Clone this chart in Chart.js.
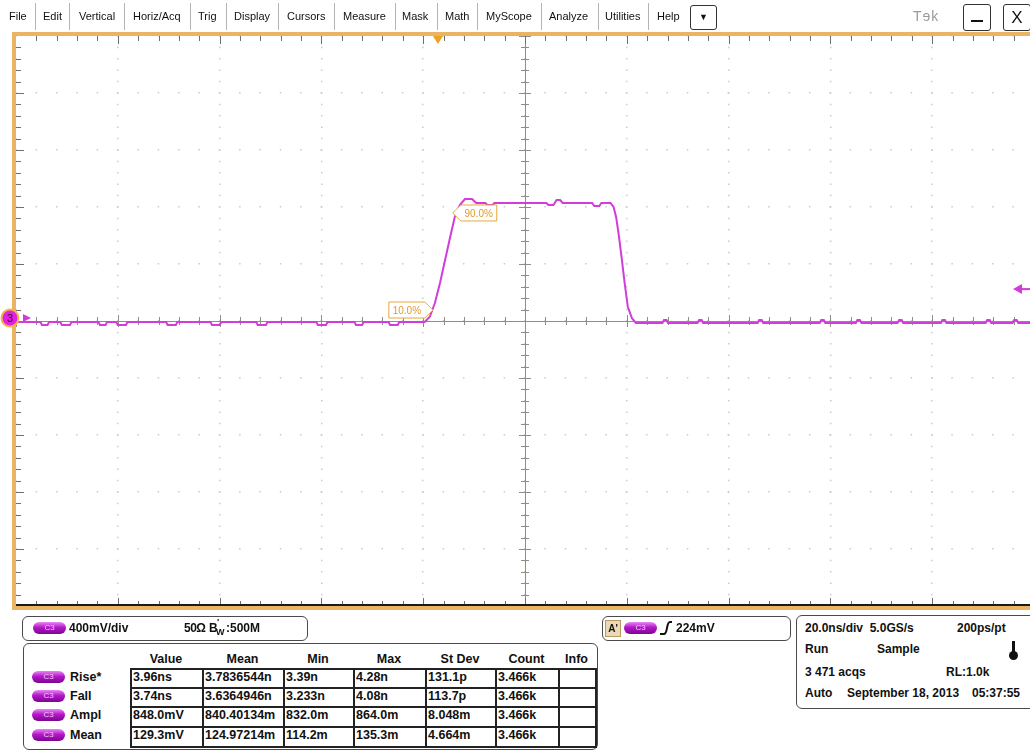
<!DOCTYPE html>
<html>
<head>
<meta charset="utf-8">
<script src="https://cdn.jsdelivr.net/npm/chart.js@4.4.0/dist/chart.umd.min.js"></script>
<style>
html, body { margin: 0; padding: 0; width: 1030px; height: 751px; overflow: hidden; background: #fff;
  font-family: "Liberation Sans", Arial, sans-serif; color: #111; }
.abs { position: absolute; white-space: nowrap; }
.menu { font-size: 11px; top: 9px; line-height: 14px; }
.sep { position: absolute; top: 3px; width: 1px; height: 27px; background: #b4b4b4; }
.box { position: absolute; border: 1px solid #4a4a4a; border-radius: 6px; background: #fff; }
.pill { position: absolute; width: 33px; height: 12px; border-radius: 7px;
  background: linear-gradient(#e889f4, #b517c9 45%, #7a0690); color: #f0c6f6;
  font-size: 8px; line-height: 12px; text-align: center; }
.b { font-weight: bold; font-size: 12px; line-height: 14px; }
.t { font-size: 12.5px; }
.hl { position: absolute; height: 1.5px; background: #222; }
.vl { position: absolute; width: 1.5px; background: #222; }
#scope { position: absolute; left: 0; top: 0; }
</style>
</head>
<body>
<canvas id="scope" width="1040" height="620"></canvas>
<div id="ui"></div>
<script>
// C3 waveform (time in ns, level in mV)
const waveTimeNs = [
  -100, -95.2, -94.9, -93.8, -93.5, -91.3, -91.0, -89.4, -89.1, -83.8, -83.5, -82.4, -82.1,
  -80.3, -80.0, -78.4, -78.1, -70.5, -70.2, -68.6, -68.3, -61.8, -61.5, -60.0, -59.7,
  -52.8, -52.5, -50.9, -50.6, -41.0, -40.7, -39.1, -38.8, -33.5, -33.2, -32.0, -31.7,
  -26.8, -26.5, -25.0, -24.7,
  -19.7, -18.7, -17.7, -16.7, -15.7, -14.7, -13.8, -12.8, -11.8, -10.4, -9.6,
  -7.8, -7.4, -6.4, -6.0, 4.2, 4.6, 5.6, 6.2, 6.9, 7.4, 13.2, 13.6, 14.6, 15.0, 16.8,
  17.4, 17.9, 18.4, 19.0, 19.6, 20.2, 21.0, 21.8,
  27.0, 27.3, 27.8, 28.1, 33.9, 34.2, 34.7, 35.0, 45.7, 46.0, 46.5, 46.8,
  57.9, 58.2, 58.7, 59.0, 65.0, 65.3, 65.8, 66.1, 73.2, 73.5, 74.0, 74.3,
  81.7, 82.0, 82.5, 82.8, 90.5, 90.8, 91.3, 91.6, 95.8, 96.1, 96.6, 96.9, 100
];
const waveMv = [
  -7, -7, -28, -28, -7, -7, -28, -28, -7, -7, -28, -28, -7,
  -7, -28, -28, -7, -7, -28, -28, -7, -7, -28, -28, -7,
  -7, -28, -28, -7, -7, -28, -28, -7, -7, -28, -28, -7,
  -7, -28, -28, -7,
  -7, 30, 126, 267, 428, 590, 730, 814, 856, 856, 828,
  828, 814, 814, 828, 828, 814, 814, 849, 849, 828, 828, 807, 807, 828, 828,
  800, 730, 610, 440, 260, 100, 20, -14,
  -14, 7, 7, -14, -14, 7, 7, -14, -14, 7, 7, -14,
  -14, 7, 7, -14, -14, 7, 7, -14, -14, 7, 7, -14,
  -14, 7, 7, -14, -14, 7, 7, -14, -14, 7, 7, -14, -14
];

// scope settings
const timePerDivNs = 20;
const voltsPerDivMv = 400;
const triggerTimeNs = -17.1;
const triggerLevelMv = 224;
const refLabels = ['10.0%', '90.0%'];
const refTimeNs = [-18.1, -14.2];
const refLevelMv = [77, 758];

// measurement readout
const measNames = ['Rise*', 'Fall', 'Ampl', 'Mean'];
const measHeaders = ['Value', 'Mean', 'Min', 'Max', 'St Dev', 'Count', 'Info'];
const measValue = ['3.96ns', '3.74ns', '848.0mV', '129.3mV'];
const measMean = ['3.7836544n', '3.6364946n', '840.40134m', '124.97214m'];
const measMin = ['3.39n', '3.233n', '832.0m', '114.2m'];
const measMax = ['4.28n', '4.08n', '864.0m', '135.3m'];
const measStdDev = ['131.1p', '113.7p', '8.048m', '4.664m'];
const measCount = ['3.466k', '3.466k', '3.466k', '3.466k'];

const menuItems = ['File', 'Edit', 'Vertical', 'Horiz/Acq', 'Trig', 'Display', 'Cursors',
  'Measure', 'Mask', 'Math', 'MyScope', 'Analyze', 'Utilities', 'Help'];

const ORANGE = '#e9b562';
const MAGENTA = '#d23cdb';

// ---- html chrome around the graticule ----
const ui = document.getElementById('ui');
function add (html) { ui.insertAdjacentHTML('beforeend', html); }

const menuX = [9, 43, 79, 133, 198, 234, 287, 343, 402, 445, 486, 549, 605, 657];
const sepX = [35, 69, 124, 190, 226, 278, 334, 395, 437, 477, 541, 598, 648];
menuItems.forEach((m, i) => add(`<div class="abs menu" style="left:${menuX[i]}px">${m}</div>`));
sepX.forEach(x => add(`<div class="sep" style="left:${x}px"></div>`));
add(`<div class="abs" style="left:690px;top:5px;width:25px;height:23px;border:1px solid #333;border-radius:3px;font-size:9px;line-height:23px;text-align:center">&#9660;</div>`);
add(`<div class="abs" style="left:913px;top:8px;font-size:14px;color:#9a9a9a;letter-spacing:1px">T&#x0258;k</div>`);
add(`<div class="abs" style="left:963px;top:4px;width:26px;height:25px;border:1.5px solid #333;border-radius:3px"><div style="position:absolute;left:7px;top:15px;width:12px;height:2px;background:#111"></div></div>`);
add(`<div class="abs" style="left:1003px;top:4px;width:26px;height:25px;border:1.5px solid #333;border-radius:3px;font-size:17px;line-height:25px;text-align:center">X</div>`);

// vertical panel
add(`<div class="box" style="left:22px;top:616px;width:284px;height:23px"></div>`);
add(`<div class="pill" style="left:33px;top:622px">C3</div>`);
add(`<div class="abs b" style="left:69px;top:621px">400mV/div</div>`);
add(`<div class="abs b" style="left:184px;top:621px;letter-spacing:-0.5px">50&Omega;</div>`);
add(`<div class="abs b" style="left:209px;top:621px">B</div>`);
add(`<div class="abs" style="left:217px;top:617px;font-size:9px;font-weight:bold">&#8242;</div>`);
add(`<div class="abs" style="left:216px;top:627px;font-size:9px;font-weight:bold">W</div>`);
add(`<div class="abs b" style="left:226px;top:621px">:500M</div>`);

// trigger panel
add(`<div class="box" style="left:602px;top:616px;width:187px;height:23px"></div>`);
add(`<div class="abs" style="left:605px;top:620px;width:14px;height:15px;background:#ead9b2;border:1px solid #b89a60;font-size:10px;font-weight:bold;line-height:15px;text-align:center">A'</div>`);
add(`<div class="pill" style="left:624px;top:622px">C3</div>`);
add(`<svg class="abs" style="left:659px;top:620px" width="14" height="16"><path d="M1 14 H5 Q7 14 8 8 Q9 2 11 2 H13" fill="none" stroke="#111" stroke-width="2"/></svg>`);
add(`<div class="abs b" style="left:676px;top:621px">${triggerLevelMv}mV</div>`);

// timebase panel
add(`<div class="box" style="left:796px;top:615px;width:240px;height:92px"></div>`);
add(`<div class="abs b" style="left:805px;top:621px">20.0ns/div&nbsp; 5.0GS/s</div>`);
add(`<div class="abs b" style="left:957px;top:621px">200ps/pt</div>`);
add(`<div class="abs b" style="left:805px;top:642px">Run</div>`);
add(`<div class="abs b" style="left:877px;top:642px">Sample</div>`);
add(`<div class="abs" style="left:1012px;top:641px;width:3px;height:13px;background:#111"></div>`);
add(`<div class="abs" style="left:1009px;top:651px;width:9px;height:9px;border-radius:5px;background:#111"></div>`);
add(`<div class="abs b" style="left:805px;top:665px">3 471 acqs</div>`);
add(`<div class="abs b" style="left:946px;top:665px">RL:1.0k</div>`);
add(`<div class="abs b" style="left:805px;top:686px">Auto</div>`);
add(`<div class="abs b" style="left:847px;top:686px">September 18, 2013</div>`);
add(`<div class="abs b" style="left:972px;top:686px">05:37:55</div>`);

// measurement table
add(`<div class="box" style="left:23px;top:643px;width:573px;height:105px"></div>`);
const colX = [130, 202, 283, 353, 425, 495, 558, 595];
const rowY = [668, 687, 706, 726, 746];
measHeaders.forEach((h, i) => {
  const c = (colX[i] + colX[i + 1]) / 2;
  add(`<div class="abs b t" style="left:${c - 40}px;width:80px;text-align:center;top:652px">${h}</div>`);
});
rowY.forEach(y => add(`<div class="hl" style="left:${colX[0]}px;top:${y}px;width:${colX[7] - colX[0] + 1.5}px"></div>`));
colX.forEach(x => add(`<div class="vl" style="left:${x}px;top:${rowY[0]}px;height:${rowY[4] - rowY[0]}px"></div>`));
const measCols = [measValue, measMean, measMin, measMax, measStdDev, measCount];
measNames.forEach((name, r) => {
  const top = rowY[r] + 3;
  add(`<div class="pill" style="left:32px;top:${top}px">C3</div>`);
  add(`<div class="abs b t" style="left:70px;top:${top - 1}px">${name}</div>`);
  measCols.forEach((col, c) => add(`<div class="abs b t" style="left:${colX[c] + 3}px;top:${top - 1}px">${col[r]}</div>`));
});

// ---- graticule drawn on top of chart.js scales ----
const graticule = {
  id: 'graticule',
  beforeDatasetsDraw (chart)
  {
    const {ctx, chartArea: a, scales: {x, y}} = chart;
    const cx = x.getPixelForValue(0);
    const cy = y.getPixelForValue(0);
    const minorX = timePerDivNs / 5;
    const minorY = voltsPerDivMv / 5;
    ctx.save();
    // center cross with minor ticks
    ctx.strokeStyle = '#8e8e84';
    ctx.lineWidth = 1;
    ctx.beginPath();
    ctx.moveTo(a.left, cy + 0.5); ctx.lineTo(a.right, cy + 0.5);
    ctx.moveTo(cx + 0.5, a.top); ctx.lineTo(cx + 0.5, a.bottom);
    for (let i = 0; i <= 50; i++)
    {
      const px = Math.round(x.getPixelForValue(x.min + i * minorX)) + 0.5;
      const len = i % 5 === 0 ? 6 : 4;
      ctx.moveTo(px, cy - len); ctx.lineTo(px, cy + len);
      const py = Math.round(y.getPixelForValue(y.min + i * minorY)) + 0.5;
      ctx.moveTo(cx - len, py); ctx.lineTo(cx + len, py);
    }
    ctx.stroke();
    // edge ticks
    ctx.strokeStyle = '#6e6e6e';
    ctx.beginPath();
    for (let i = 1; i < 50; i++)
    {
      const px = Math.round(x.getPixelForValue(x.min + i * minorX)) + 0.5;
      const lx = i % 5 === 0 ? 8 : 5;
      ctx.moveTo(px, a.top); ctx.lineTo(px, a.top + lx);
      ctx.moveTo(px, a.bottom); ctx.lineTo(px, a.bottom - lx);
      const py = Math.round(y.getPixelForValue(y.min + i * minorY)) + 0.5;
      ctx.moveTo(a.left, py); ctx.lineTo(a.left + lx, py);
    }
    ctx.stroke();
    ctx.restore();
  },
  afterDraw (chart)
  {
    const {ctx, chartArea: a, scales: {x, y}} = chart;
    ctx.save();
    // frame
    ctx.fillStyle = '#1a1a1a';
    ctx.fillRect(a.left, a.bottom - 2, a.right - a.left, 2);
    ctx.strokeStyle = ORANGE;
    ctx.lineWidth = 4;
    ctx.strokeRect(a.left - 2, a.top - 2, a.right - a.left + 4, a.bottom - a.top + 4);

    // trigger position
    const tx = x.getPixelForValue(triggerTimeNs);
    ctx.fillStyle = '#f0a21e';
    ctx.beginPath();
    ctx.moveTo(tx - 5, a.top); ctx.lineTo(tx + 5, a.top); ctx.lineTo(tx, a.top + 8);
    ctx.closePath(); ctx.fill();

    // trigger level arrow on the right
    const ty = y.getPixelForValue(triggerLevelMv);
    ctx.fillStyle = MAGENTA; ctx.strokeStyle = MAGENTA; ctx.lineWidth = 2;
    ctx.beginPath();
    ctx.moveTo(1013, ty); ctx.lineTo(1022, ty - 5); ctx.lineTo(1022, ty + 5); ctx.closePath(); ctx.fill();
    ctx.beginPath(); ctx.moveTo(1020, ty); ctx.lineTo(1031, ty); ctx.stroke();

    // channel 3 ground marker
    const gy = y.getPixelForValue(0) - 3;
    ctx.beginPath(); ctx.arc(10, gy, 8.5, 0, Math.PI * 2);
    ctx.fillStyle = '#e21fe0'; ctx.fill();
    ctx.lineWidth = 2; ctx.strokeStyle = '#f2b24a'; ctx.stroke();
    ctx.fillStyle = '#3a103a'; ctx.font = '11px "Liberation Sans", Arial';
    ctx.textAlign = 'center'; ctx.textBaseline = 'middle';
    ctx.fillText('3', 10, gy + 1);
    ctx.fillStyle = MAGENTA;
    ctx.beginPath(); ctx.moveTo(23, gy - 4); ctx.lineTo(31, gy); ctx.lineTo(23, gy + 4); ctx.closePath(); ctx.fill();

    // reference level flags
    ctx.font = '10px "Liberation Sans", Arial';
    refLabels.forEach((label, i) => {
      const px = x.getPixelForValue(refTimeNs[i]);
      const py = y.getPixelForValue(refLevelMv[i]);
      const w = 36, h = 16;
      const dir = i === 0 ? -1 : 1;
      const near = px + dir * 8, far = near + dir * w;
      ctx.beginPath();
      ctx.moveTo(px, py);
      ctx.lineTo(near, py - h / 2); ctx.lineTo(far, py - h / 2);
      ctx.lineTo(far, py + h / 2); ctx.lineTo(near, py + h / 2);
      ctx.closePath();
      ctx.fillStyle = '#fff'; ctx.fill();
      ctx.lineWidth = 1; ctx.strokeStyle = '#e6a83c'; ctx.stroke();
      ctx.fillStyle = '#e29a2a';
      ctx.fillText(label, (near + far) / 2, py + 1);
    });
    ctx.restore();
  }
};

new Chart(document.getElementById('scope'), {
  type: 'line',
  data: {
    datasets: [{
      data: waveTimeNs.map((t, i) => ({x: t, y: waveMv[i]})),
      borderColor: MAGENTA,
      borderWidth: 2,
      pointRadius: 0,
      tension: 0
    }]
  },
  options: {
    responsive: false,
    animation: false,
    layout: {padding: {left: 16, top: 36, right: 6, bottom: 14}},
    plugins: {legend: {display: false}, tooltip: {enabled: false}},
    scales: {
      x: {
        type: 'linear', min: -5 * timePerDivNs, max: 5 * timePerDivNs,
        ticks: {display: false, stepSize: timePerDivNs},
        grid: {color: '#cbcbcb', lineWidth: 1.5, drawTicks: false},
        border: {display: false, dash: [1.5, 9.9], dashOffset: 0.75}
      },
      y: {
        type: 'linear', min: -5 * voltsPerDivMv, max: 5 * voltsPerDivMv,
        ticks: {display: false, stepSize: voltsPerDivMv},
        grid: {color: '#cbcbcb', lineWidth: 1.5, drawTicks: false},
        border: {display: false, dash: [1.5, 18.85], dashOffset: 0.75}
      }
    }
  },
  plugins: [graticule]
});
</script>
</body>
</html>
